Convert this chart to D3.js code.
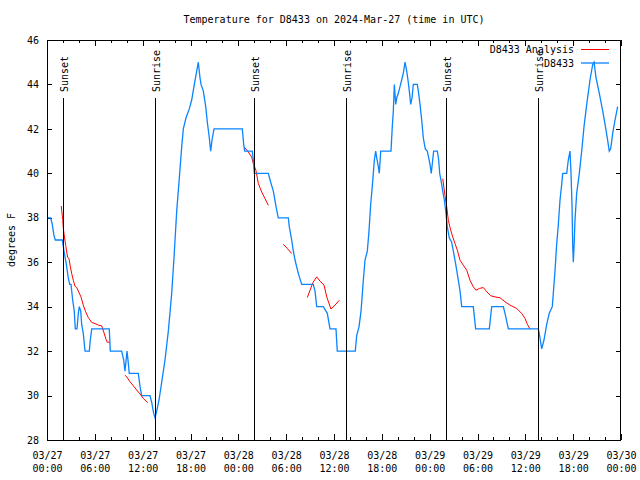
<!DOCTYPE html>
<html><head><meta charset="utf-8">
<script src="https://cdn.jsdelivr.net/npm/d3@7"></script>
<style>
body{margin:0;background:#fff}
svg{display:block}
text{font-family:"DejaVu Sans Mono","Liberation Mono",monospace;font-size:10px;fill:#000}
</style>
</head><body>
<svg id="chart" width="640" height="480"></svg>
<script>
// ---------- data ----------
const titleText = "Temperature for D8433 on 2024-Mar-27 (time in UTC)";
const yAxisLabel = "degrees F";
const startUtc = Date.UTC(2024, 2, 27, 0, 0);
const spanHours = 72;
const yTicks = [28, 30, 32, 34, 36, 38, 40, 42, 44, 46];
const majorTickHours = [0, 6, 12, 18, 24, 30, 36, 42, 48, 54, 60, 66, 72];
const minorTickHours = [0, 2, 4, 6, 8, 10, 12, 14, 16, 18, 20, 22, 24, 26, 28, 30, 32, 34, 36, 38, 40, 42, 44, 46, 48, 50, 52, 54, 56, 58, 60, 62, 64, 66, 68, 70, 72];
const sunEventNames = ["Sunset", "Sunrise", "Sunset", "Sunrise", "Sunset", "Sunrise"];
const sunEventHours = [1.97, 13.59, 26.0, 37.5, 50.09, 61.6];
const seriesNames = ["D8433 Analysis", "D8433"];

// observed D8433 temperature: [hours since 03/27 00:00 UTC, degrees F]
const observed = [
[0,38],[0.46,38],[0.66,37.7],[0.88,37.2],[1.04,37],[1.92,37],[2.13,36.5],[2.38,36],[2.67,35.3],[2.85,35],[3.01,35],
[3.22,34.3],[3.42,33.8],[3.55,33],[3.76,33],[3.93,33.7],[4.05,34],[4.23,33.8],[4.35,33.2],[4.55,32.8],[4.77,32],[5.31,32],
[5.43,32.5],[5.61,33],[7.81,33],[7.94,32],[9.37,32],[9.62,31.6],[9.78,31.1],[10.04,32],[10.16,31.6],[10.32,31],[11.45,31],
[11.67,30.4],[11.88,30],[12.92,30],[13.13,29.7],[13.38,29.2],[13.55,29],[13.76,29.3],[14.05,29.8],[14.39,30.6],[14.8,31.6],
[15.22,32.9],[15.64,34.6],[15.93,36.2],[16.27,38.3],[16.6,39.8],[16.9,41.2],[17.1,42],[17.44,42.5],[17.85,42.9],[18.15,43.3],
[18.48,44],[18.78,44.6],[18.98,45],[19.19,44.3],[19.32,44],[19.61,43.7],[19.91,43],[20.11,42.3],[20.36,41.6],[20.53,41],
[20.7,41.5],[20.95,42],[24.5,42],[24.67,41.3],[24.8,41],[25.75,41],[25.88,40.6],[26.0,40],[27.76,40],[28.06,39.6],[28.39,39.2],
[28.73,38.5],[29.01,38],[30.27,38],[30.39,37.6],[30.69,37],[30.9,36.5],[31.11,36.1],[31.52,35.5],[31.95,35],[33.4,35],
[33.62,34.7],[33.83,34],[34.66,34],[35.16,33.7],[35.5,33],[36.25,33],[36.41,32],[38.67,32],[38.85,32.7],[39.14,33.1],
[39.39,33.8],[39.68,35.2],[39.89,36.1],[40.18,36.5],[40.39,37.4],[40.6,38.6],[40.8,39.4],[40.93,40],[41.06,40.6],[41.23,41],
[41.36,40.7],[41.56,40.3],[41.68,40],[41.86,41],[43.15,41],[43.31,42.1],[43.44,42.8],[43.57,44],[43.74,43.1],[43.87,43.4],
[44.07,43.6],[44.28,43.9],[44.49,44.2],[44.69,44.5],[44.91,45],[45.12,44.6],[45.28,44.2],[45.45,43.7],[45.62,43.1],[45.79,43.4],
[45.95,44],[46.45,44],[46.62,43.6],[46.79,43.1],[47.0,42.4],[47.2,41.6],[47.45,41.1],[47.7,41],[47.88,40.7],[48.04,40.4],
[48.2,40],[48.38,40.6],[48.5,41],[48.96,41],[49.13,40.6],[49.26,40],[49.46,39.6],[49.64,39.2],[49.84,38.8],[50.05,38.2],
[50.21,37.6],[50.46,37.1],[50.76,36.9],[50.97,36.5],[51.27,35.9],[51.59,35.2],[51.81,34.7],[52.02,34],[53.47,34],[53.77,33],
[55.48,33],[55.78,34],[57.24,34],[57.45,33.7],[57.87,33],[61.63,33],[61.75,32.8],[62.05,32.1],[62.34,32.5],[62.68,33.2],
[63.0,33.7],[63.38,34],[63.51,34.6],[63.72,35.6],[63.93,36.8],[64.14,37.7],[64.35,38.8],[64.56,39.5],[64.69,40],[65.19,40],
[65.39,40.6],[65.6,41],[65.73,40],[65.86,38.5],[65.94,36.8],[66.02,36],[66.11,36.7],[66.23,37.9],[66.44,39.1],[66.77,40],
[67.07,41],[67.36,42.1],[67.7,43.1],[68.11,44.2],[68.45,44.9],[68.62,45],[68.87,44.3],[69.28,43.6],[69.71,42.8],[70.0,42.2],
[70.28,41.6],[70.53,41],[70.71,41.1],[70.96,41.8],[71.25,42.4],[71.58,43]
];

// D8433 analysis, drawn as separate pieces
const analysisPieces = [
[[1.79,38.53],[1.84,38.34],[1.97,37.93],[2.04,37.56],[2.17,37.18],[2.35,36.76],[2.47,36.46],[2.6,36.21],[2.76,36.17],
 [2.89,35.87],[3.1,35.49],[3.3,35.19],[3.51,34.92],[3.73,34.86],[3.93,34.7],[4.26,34.44],[4.55,34.07],[4.85,33.77],
 [5.18,33.51],[5.61,33.29],[6.02,33.24],[6.44,33.17],[6.86,33.14],[7.15,32.82],[7.4,32.53],[7.56,32.4],[7.9,32.4]],
[[9.78,30.92],[10.0,30.84],[10.41,30.62],[10.83,30.44],[11.25,30.25],[11.67,30.07],[12.08,29.87],[12.63,29.68]],
[[24.75,41.18],[25.25,40.96],[25.68,40.73],[25.88,40.44],[26.21,40.13],[26.51,39.54],[26.93,39.16],[27.35,38.86],[27.76,38.56]],
[[29.64,36.81],[30.14,36.62],[30.69,36.39]],
[[32.65,34.41],[32.99,34.74],[33.4,35.11],[33.83,35.34],[34.24,35.15],[34.75,34.97],[35.09,34.44],[35.62,33.89],[36.13,34.07],[36.67,34.29]],
[[49.64,39.76],[49.92,39.01],[50.14,38.49],[50.34,37.89],[50.64,37.44],[50.89,37.14],[51.18,36.84],[51.47,36.54],[51.81,36.09],
 [52.22,35.87],[52.65,35.64],[53.06,35.19],[53.48,34.89],[53.81,34.74],[54.23,34.82],[54.73,34.86],[55.16,34.67],[55.66,34.49],
 [56.2,34.44],[56.82,34.4],[57.45,34.22],[58.08,34.07],[58.92,33.92],[59.55,33.69],[59.96,33.47],[60.25,33.21],[60.59,32.99]]
];

// ---------- drawing ----------
const colors = {analysis: "#ff0000", observed: "#0a84ff"};
const L = 47, R = 621, T = 40, B = 440;
const svg = d3.select("#chart");
const hourToDate = h => new Date(startUtc + h * 3600e3);

const x = d3.scaleUtc().domain([hourToDate(0), hourToDate(spanHours)]).range([L, R]);
const y = d3.scaleLinear().domain([28, 46]).range([B, T]);

// title
svg.append("text").attr("x", (L + R) / 2).attr("y", 23).attr("text-anchor", "middle").text(titleText);
// y label
svg.append("text").attr("transform", `translate(15,${(T + B) / 2}) rotate(-90)`)
  .attr("text-anchor", "middle").text(yAxisLabel);

function styleAxis(g) {
  g.select(".domain").remove();
  g.selectAll("line").attr("stroke", "#000").attr("shape-rendering", "crispEdges");
  g.selectAll("text").attr("font-family", null).attr("font-size", null);
}

// x axes (bottom + top), major & minor
svg.append("g").attr("transform", `translate(0,${B})`)
  .call(d3.axisBottom(x).tickValues(minorTickHours.map(hourToDate)).tickSize(-3).tickFormat(""))
  .call(styleAxis);
svg.append("g").attr("transform", `translate(0,${T})`)
  .call(d3.axisTop(x).tickValues(minorTickHours.map(hourToDate)).tickSize(-3).tickFormat(""))
  .call(styleAxis);
const fmtDay = d3.utcFormat("%m/%d"), fmtTime = d3.utcFormat("%H:%M");
const bottomMajor = svg.append("g").attr("transform", `translate(0,${B})`)
  .call(d3.axisBottom(x).tickValues(majorTickHours.map(hourToDate)).tickSize(-6).tickFormat(""))
  .call(styleAxis);
bottomMajor.selectAll(".tick text").remove();
bottomMajor.selectAll(".tick").each(function(d) {
  const t = d3.select(this).append("text").attr("text-anchor", "middle");
  t.append("tspan").attr("x", 0).attr("y", 19).text(fmtDay(d));
  t.append("tspan").attr("x", 0).attr("y", 32).text(fmtTime(d));
});
svg.append("g").attr("transform", `translate(0,${T})`)
  .call(d3.axisTop(x).tickValues(majorTickHours.map(hourToDate)).tickSize(-6).tickFormat(""))
  .call(styleAxis);

// y axes
svg.append("g").attr("transform", `translate(${L},0)`)
  .call(d3.axisLeft(y).tickValues(yTicks).tickSize(-5).tickPadding(8).tickFormat(d3.format("d")))
  .call(styleAxis);
svg.append("g").attr("transform", `translate(${R},0)`)
  .call(d3.axisRight(y).tickValues(yTicks).tickSize(-5).tickFormat(""))
  .call(styleAxis);

// data lines
const line = d3.line().x(d => x(hourToDate(d[0]))).y(d => y(d[1]));
svg.append("g").selectAll("path").data(analysisPieces).join("path")
  .attr("d", line).attr("fill", "none").attr("stroke", colors.analysis).attr("stroke-width", 1);
svg.append("path").datum(observed).attr("d", line).attr("fill", "none")
  .attr("stroke", colors.observed).attr("stroke-width", 1.3);

// sunrise / sunset markers
const sunG = svg.append("g");
sunEventHours.forEach((h, i) => {
  const px = Math.round(x(hourToDate(h))) + 0.5;
  sunG.append("line").attr("x1", px).attr("x2", px).attr("y1", 98).attr("y2", B)
    .attr("stroke", "#000").attr("stroke-width", 1);
  sunG.append("text").attr("transform", `translate(${px + 4.5},92) rotate(-90)`)
    .attr("text-anchor", "start").text(sunEventNames[i]);
});

// frame
svg.append("rect").attr("x", L + 0.5).attr("y", T + 0.5).attr("width", R - L - 1).attr("height", B - T)
  .attr("fill", "none").attr("stroke", "#000").attr("stroke-width", 1).attr("shape-rendering", "crispEdges");

// legend
const legendColors = [colors.analysis, colors.observed];
seriesNames.forEach((name, i) => {
  const ly = 49.5 + i * 13.5;
  svg.append("text").attr("x", 574).attr("y", ly + 3.5).attr("text-anchor", "end").text(name);
  svg.append("line").attr("x1", 581).attr("x2", 609).attr("y1", ly).attr("y2", ly)
    .attr("stroke", legendColors[i]).attr("stroke-width", i ? 1.3 : 1);
});
</script>
</body></html>
